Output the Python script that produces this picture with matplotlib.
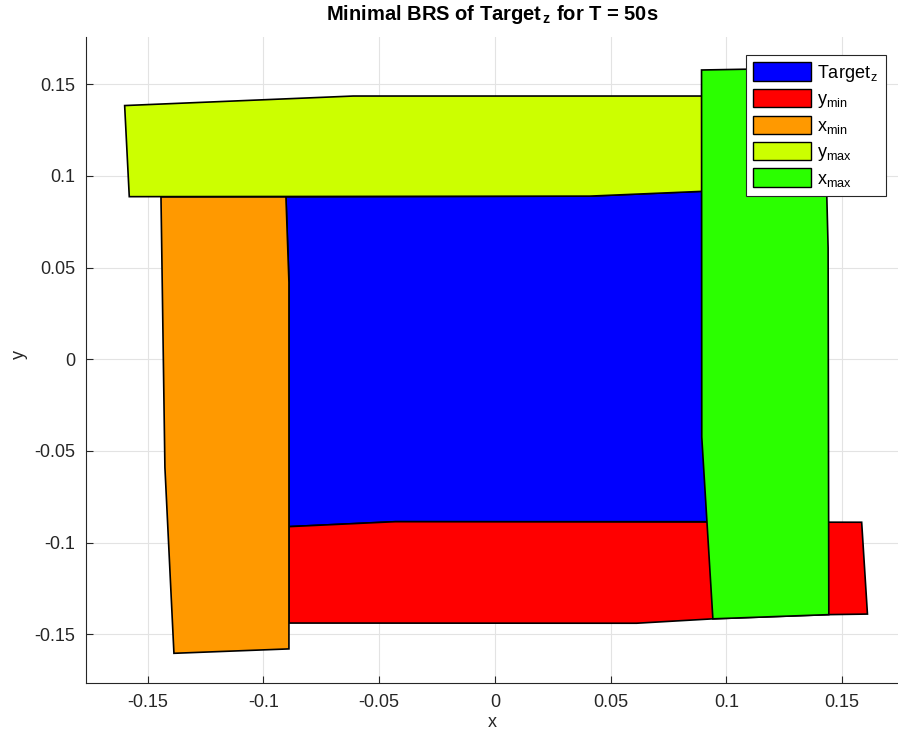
import matplotlib
matplotlib.use('Agg')
import matplotlib.pyplot as plt
from matplotlib.patches import Polygon, Patch

plt.rcParams['font.family'] = ['Liberation Sans', 'DejaVu Sans']
plt.rcParams['mathtext.fontset'] = 'custom'
plt.rcParams['mathtext.rm'] = 'Liberation Sans'
plt.rcParams['mathtext.it'] = 'Liberation Sans'
plt.rcParams['mathtext.bf'] = 'Liberation Sans:bold'

# polygon vertices
target_x = [-0.0903, 0.041, 0.092, 0.092, -0.043, -0.089, -0.089]
target_y = [0.0886, 0.0890, 0.0918, -0.0886, -0.0886, -0.0913, 0.042]

ymin_x = [-0.089, -0.043, 0.1585, 0.161, 0.1443, 0.0942, 0.0612, -0.089]
ymin_y = [-0.0913, -0.0886, -0.0889, -0.139, -0.1393, -0.1416, -0.144, -0.1439]

xmin_x = [-0.1443, -0.0903, -0.089, -0.089, -0.1387, -0.1426]
xmin_y = [0.0886, 0.0886, 0.042, -0.158, -0.1604, -0.059]

ymax_x = [-0.160, -0.0612, 0.0935, 0.0935, 0.041, -0.158]
ymax_y = [0.1384, 0.1436, 0.1436, 0.0918, 0.089, 0.0887]

xmax_x = [0.0893, 0.143, 0.1434, 0.144, 0.1443, 0.0942, 0.0894]
xmax_y = [0.1578, 0.159, 0.0908, 0.0607, -0.1393, -0.1416, -0.0424]

labels = ['Target$_{\\,z}$', 'y$_{min}$', 'x$_{min}$', 'y$_{max}$', 'x$_{max}$']
colors = ['#0000FF', '#FF0000', '#FF9900', '#CCFF00', '#2BFF00']
xticks = [-0.15, -0.1, -0.05, 0, 0.05, 0.1, 0.15]
yticks = [-0.15, -0.1, -0.05, 0, 0.05, 0.1, 0.15]

fig = plt.figure(figsize=(8.98, 7.34), dpi=100)
ax = fig.add_axes([86 / 898, 1 - 683 / 734, 1 - 86 / 898, (683 - 37) / 734])

shapes = [(target_x, target_y), (ymin_x, ymin_y), (xmin_x, xmin_y),
          (ymax_x, ymax_y), (xmax_x, xmax_y)]
for (xs, ys), c in zip(shapes, colors):
    ax.add_patch(Polygon(list(zip(xs, ys)), closed=True, facecolor=c,
                         edgecolor='black', linewidth=1.2, zorder=2))

ax.set_xlim(-0.1767, 0.1742)
ax.set_ylim(-0.1766, 0.1758)
ax.set_xticks(xticks)
ax.set_yticks(yticks)
ax.set_xticklabels([f'{v:g}' for v in xticks])
ax.set_yticklabels([f'{v:g}' for v in yticks])
ax.tick_params(direction='in', length=5, labelsize=13, colors='#262626', pad=8)
ax.grid(True, color='#E3E3E3', linewidth=0.8, zorder=0)
ax.set_axisbelow(True)
for s in ['top', 'right']:
    ax.spines[s].set_visible(False)
for s in ['left', 'bottom']:
    ax.spines[s].set_color('#262626')
    ax.spines[s].set_linewidth(0.8)

ax.set_xlabel('x', fontsize=13, color='#262626', labelpad=2)
ax.set_ylabel('y', fontsize=13, color='#262626')
ax.yaxis.set_label_coords(-0.071, 0.508)
ax.set_title('Minimal BRS of Target$_{\\,\\mathbf{z}}$ for T = 50s', fontsize=14.5,
             fontweight='bold', pad=12)

handles = [Patch(facecolor=c, edgecolor='black', linewidth=1.0) for c in colors]
leg = ax.legend(handles, labels, loc='upper right', fontsize=13,
                handlelength=3.2, handleheight=1.2, labelspacing=0.3,
                handletextpad=0.35, borderpad=0.4, borderaxespad=0,
                fancybox=False, framealpha=1)
leg.set_bbox_to_anchor((886 / 898, 1 - 55 / 734), transform=fig.transFigure)
leg.get_frame().set_edgecolor('#262626')
leg.get_frame().set_linewidth(0.8)

fig.savefig('out.png', dpi=100)
